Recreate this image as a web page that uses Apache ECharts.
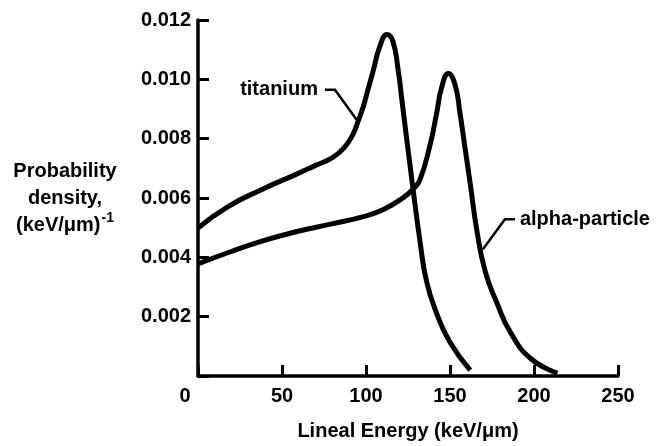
<html>
<head>
    <meta charset="UTF-8">
    <title>Lineal energy spectra</title>
    <style>
        html, body { margin: 0; padding: 0; background: #fff; }
    </style>
    <script src="https://cdn.jsdelivr.net/npm/echarts@6/dist/echarts.min.js"></script>
</head>
<body>
<div id="main" style="width: 657px;height:446px;"></div>
<script>
    // x = lineal energy (keV/um), y = probability density
    var titaniumX = [0, 17.9, 38.1, 57.7, 70, 80, 87, 92, 95.5, 98.5, 101, 104.2, 108.3, 112.5, 116, 119, 121.4, 123.8, 126.2, 128, 132, 136, 142, 150, 162];
    var titaniumY = [0.00499, 0.00571, 0.00629, 0.00678, 0.00710, 0.00736, 0.00770, 0.00812, 0.00862, 0.00910, 0.00962, 0.01027, 0.01112, 0.01151, 0.01128, 0.01037, 0.00929, 0.00818, 0.00711, 0.00630, 0.0046, 0.0032, 0.00212, 0.00114, 0.0002];
    var alphaX = [0, 19, 39, 59, 79, 99, 111, 122.6, 128, 132, 138, 142, 145, 149, 153, 156, 159, 162, 166, 171, 178, 186, 198, 214];
    var alphaY = [0.00378, 0.00418, 0.00456, 0.00487, 0.00512, 0.00538, 0.00563, 0.00603, 0.0063, 0.00660, 0.00776, 0.00884, 0.00972, 0.0102, 0.00982, 0.00884, 0.00766, 0.0065, 0.00490, 0.00352, 0.00245, 0.00147, 0.00059, 0.0001];
    var xTicks = [0, 50, 100, 150, 200, 250];
    var yTicks = [0.002, 0.004, 0.006, 0.008, 0.010, 0.012];

    function pairs(xs, ys) {
        return xs.map(function (x, i) { return [x, ys[i]]; });
    }

    var font = '"Liberation Sans", Arial, Helvetica, sans-serif';
    var txt = { fontFamily: font, fontWeight: 'bold', fontSize: 20, color: '#000' };
    var myChart = echarts.init(document.getElementById('main'));

    var option = {
        animation: false,
        grid: { left: 198, top: 20, width: 420, height: 368 },
        xAxis: {
            type: 'value',
            min: xTicks[0], max: xTicks[xTicks.length - 1], interval: 50,
            name: 'Lineal Energy (keV/μm)',
            nameLocation: 'middle', nameGap: 45,
            nameTextStyle: txt,
            axisLine: { lineStyle: { color: '#000', width: 3.5 } },
            axisTick: { inside: true, length: 11, lineStyle: { color: '#000', width: 3 } },
            axisLabel: {
                margin: 10, fontFamily: font, fontWeight: 'bold', fontSize: 20, color: '#000',
                formatter: function (v) { return v === 0 ? '{z|0}' : String(v); },
                rich: { z: { fontFamily: font, fontWeight: 'bold', fontSize: 20, color: '#000', padding: [0, 26, 0, 0] } }
            },
            splitLine: { show: false }
        },
        yAxis: {
            type: 'value',
            min: 0, max: yTicks[yTicks.length - 1], interval: 0.002,
            name: '{a|Probability}\n{a|density,}\n{a|(keV/μm)}{s|-1}',
            nameLocation: 'middle', nameRotate: 0, nameGap: 133,
            nameTextStyle: {
                align: 'center',
                rich: {
                    a: { fontFamily: font, fontWeight: 'bold', fontSize: 20, color: '#000', lineHeight: 27 },
                    s: { fontFamily: font, fontWeight: 'bold', fontSize: 14, color: '#000', verticalAlign: 'top', lineHeight: 27, padding: [0, 0, 12, 1] }
                }
            },
            axisLine: { lineStyle: { color: '#000', width: 3.5 } },
            axisTick: { inside: true, length: 11, lineStyle: { color: '#000', width: 3 } },
            axisLabel: {
                margin: 7, fontFamily: font, fontWeight: 'bold', fontSize: 20, color: '#000',
                formatter: function (v) { return v === 0 ? '' : v.toFixed(3); }
            },
            splitLine: { show: false }
        },
        series: [
            {
                name: 'titanium', type: 'line', smooth: 0.5, symbol: 'none',
                lineStyle: { color: '#000', width: 5, cap: 'butt', join: 'round' },
                data: pairs(titaniumX, titaniumY)
            },
            {
                name: 'alpha-particle', type: 'line', smooth: 0.5, symbol: 'none',
                lineStyle: { color: '#000', width: 5, cap: 'butt', join: 'round' },
                data: pairs(alphaX, alphaY)
            }
        ]
    };
    myChart.setOption(option);

    // leader lines for labels, anchored in data coordinates
    function px(p) { return myChart.convertToPixel({ gridIndex: 0 }, p); }
    var tiA = px([95.2, 0.00858]), tiB = px([81.5, 0.00965]);
    var alA = px([169.6, 0.00427]), alB = px([182.7, 0.00528]);
    myChart.setOption({
        graphic: [
            { type: 'polyline', shape: { points: [tiA, tiB, [tiB[0] - 10, tiB[1]]] }, style: { stroke: '#000', lineWidth: 2.5, fill: null } },
            { type: 'text', x: tiB[0] - 17, y: tiB[1], style: { text: 'titanium', font: 'bold 20px ' + font, fill: '#000', align: 'right', verticalAlign: 'middle' } },
            { type: 'polyline', shape: { points: [alA, alB, [alB[0] + 10, alB[1]]] }, style: { stroke: '#000', lineWidth: 2.5, fill: null } },
            { type: 'text', x: alB[0] + 15, y: alB[1], style: { text: 'alpha-particle', font: 'bold 20px ' + font, fill: '#000', align: 'left', verticalAlign: 'middle' } }
        ]
    });
</script>
</body>
</html>
